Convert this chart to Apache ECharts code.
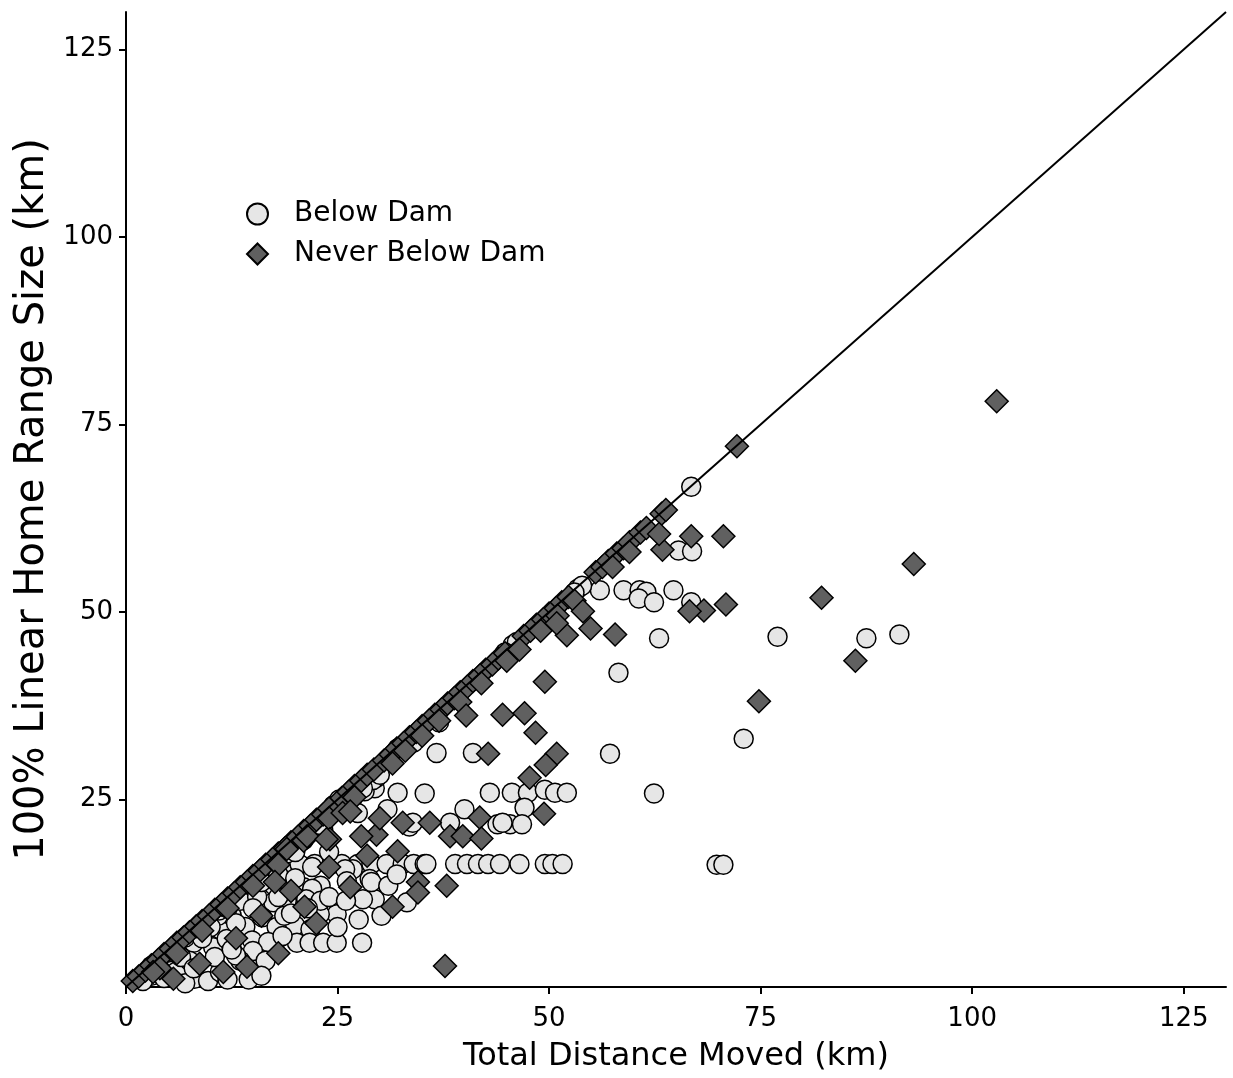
<!DOCTYPE html>
<html><head><meta charset="utf-8">
<script src="https://cdn.jsdelivr.net/npm/echarts@6/dist/echarts.min.js"></script>
<style>html,body{margin:0;padding:0;background:#fff}#c{width:1233px;height:1078px}</style>
</head><body><div id="c"></div>
<script>
const xTicks = [0, 25, 50, 75, 100, 125];
const yTicks = [25, 50, 75, 100, 125];
const seriesNames = ['Below Dam', 'Never Below Dam'];
const refLine = [[0, 0], [130, 130]];

const belowDam = [
  [91.4,47.0],[87.5,46.5],[77.0,46.7],[73.0,33.1],[62.4,25.8],[69.8,16.3],[70.6,16.3],[63.0,46.5],
  [58.2,41.9],[57.2,31.1],[66.8,66.7],[65.3,58.2],[66.9,58.1],[56.0,52.9],[58.8,52.9],[60.7,52.9],
  [61.5,52.7],[64.7,52.9],[60.6,51.8],[62.4,51.3],[66.8,51.3],[53.4,53.1],[53.9,53.5],[53.0,52.6],
  [45.6,25.9],[47.5,25.9],[49.5,26.3],[50.7,25.9],[52.1,25.9],[43.0,25.9],[35.3,25.8],[32.1,25.9],
  [29.4,26.5],[28.2,26.1],[26.7,25.0],[24.5,24.2],[47.1,23.9],[40.0,23.7],[30.9,23.7],[27.4,23.2],
  [43.9,21.7],[45.4,21.7],[46.8,21.7],[44.5,21.9],[38.3,21.9],[33.5,21.4],[33.9,21.9],
  [36.7,31.2],[41.0,31.2],[29.6,27.9],[32.1,31.8],[23.3,21.0],[25.2,25.0],[29.2,27.6],
  [45.7,45.6],[46.2,46.0],[44.8,44.6],
  [17,16.4],[19.1,16.4],[20.5,16.4],[22.3,16.4],
  [24.3,16.4],[25.5,16.4],[27.4,16.4],[29,16.4],[30.8,16.4],[32.7,16.4],[34,16.4],[35.3,16.4],
  [35.5,16.4],[38.9,16.4],[40.3,16.4],[41.6,16.4],[42.8,16.4],[44.2,16.4],[46.5,16.4],[49.5,16.4],
  [50.4,16.4],[51.6,16.4],
  [26.8,15.7],[25.9,15.7],[26.1,14.1],[28.8,14.4],
  [15,13.5],[17.5,13.5],[21,13.3],[23,13.5],[22,13.1],[19,12.7],
  [33.2,11.3],[29.4,11.7],[30.2,9.5],[24.9,9.7],[22.9,9.7],[17.4,11.3],[14.1,11.5],[16.1,9.3],
  [21.3,11.7],[23,11.5],[28,11.7],[19,11.5],
  [17.8,8.0],[20,8.2],[21.8,7.7],[11.1,7.7],[14.1,8],[8.4,7.7],[12.5,9.5],[10.9,9.5],
  [18.7,9.5],
  [17.6,5.9],[20.2,5.9],[21.7,5.9],[23.3,5.9],[24.9,5.9],[27.9,5.9],[10.3,5.3],[12.3,6.0],[14.9,6.2],
  [16.8,6.0],[6.4,5.5],[11.9,6.4],[8,5.9],
  [5,3.5],[4,2.4],[8.1,1.1],[9.7,0.8],[6,2.1],[11.1,2.0],[15,4.8],[3,1.5],[2,0.8],[12,1],[7,0.5],[13.5,3.5],
  [5,4.6],[7,6.6],[9,8.4],[11,10.2],[13,12.2],[15,14.2],[17,16.2],[19,17.8],[21,19.6],[23,21.6],
  [3,2.8],[26,25.5],[28,26.5],[30,28.3],[34,32.6],[37,35.3],
  [10,8],[12,10.5],[13.5,11.5],[15.5,12],[16,14],[18,15],[20,14.5],[22,16],[24,18],[20,18],
  [18,12],[15,10.5],[13,8.5],[9,6.5],[10.5,4],[7.5,3.5],[13,4.2],[16.5,3.5],[18.5,6.8],[14.5,1],
  [16,1.5],[12.5,5],[19.5,9.8],[21.5,10.5],[24,12],[26,11.5],[25,8],[27.5,9],[29,14],[31,13.5],
  [32,15],[6.5,4],[4.5,1.2],[8,2.5]
];

const neverBelowDam = [
  [0.8,0.8],[1.5,1.4],[2.3,2.2],[3,2.9],[3.8,3.6],[4.5,4.4],[5.3,5.1],[6,5.9],[6.8,6.6],[7.5,7.3],
  [8.3,8.1],[9,8.8],[9.8,9.5],[10.5,10.3],[11.3,11],[12,11.8],[12.8,12.5],[13.5,13.3],[14.3,14],
  [15,14.8],[15.8,15.5],[16.5,16.3],[17.3,17],[18,17.8],[18.8,18.5],[19.5,19.3],[20.3,20],[21,20.8],
  [21.8,21.5],[22.5,22.3],[23.3,23],[24,23.8],[25.5,25.2],[26.3,26],[27,26.8],[27.8,27.5],[28.5,28.3],
  [29.3,29],[30.5,30.2],[31.3,31],[32,31.8],[32.8,32.5],[33.5,33.3],[34.3,34],[35,34.8],[35.8,35.5],
  [36.5,36.3],[37.3,37],[38,37.8],[38.8,38.5],[39.5,39.3],[40.3,40],[41,40.8],[41.8,41.5],[42.5,42.3],
  [43.3,43],[44,43.8],[44.8,44.5],[47,46.8],[47.8,47.5],[48.5,48.3],[49.3,49],[50,49.8],[50.8,50.5],
  [51.5,51.3],[52.3,52],[55.5,55.3],[56.3,56],[57,56.8],[58,57.8],[58.8,58.5],[59.5,59.3],[60.8,60.6],
  [61.5,61.2],[63.3,63.1],[63.8,63.6],[72.2,72.1],
  [4,2.5],[6,4.5],[9,7.5],[12,10.5],[15,13.5],[18,16.3],[21,19.5],[24,22.5],[27,25.3],[31.5,29.8],
  [33,31.5],[35,33.5],[37,35.5],[39.5,38],[42,40.5],[45,43.5],[46.5,45],[49,47.5],[51,49.5],[53,51.5],
  [57.5,56],[59.5,58],
  [102.9,78.1],[93.1,56.4],[82.2,51.9],[86.2,43.5],[74.8,38.1],[70.9,51.0],[70.6,60.1],[66.8,60.1],
  [63.4,58.3],[63.0,60.4],[68.3,50.2],[66.6,50.1],[57.8,47.0],[54.9,47.8],[54.0,50.1],[52.1,46.9],
  [50.9,48.5],[49.5,40.7],[47.1,36.5],[48.4,33.9],[50.9,31.1],[49.6,29.6],[47.7,27.9],[49.4,23.1],
  [44.5,36.3],[40.2,36.2],[42.8,31.1],[37.7,2.8],[35.9,21.9],[32.7,21.9],[41.8,22.6],[38.3,20.1],
  [29.6,20.3],[39.8,20.1],[42.0,19.8],[25.6,23.2],[27.8,20.1],[24.1,19.7],[21.4,20.1],[32.1,18.1],
  [37.9,13.5],[34.5,14.0],[26.5,13.3],[21.1,10.7],[31.5,10.7],[34.5,12.6],[17.6,14],[19,18.4],
  [14.3,2.7],[11.5,2.0],[8.7,3.1],[3.2,2.0],[5.6,1.1],[26.5,23.4],[23.7,19.7],[30,22.5],[28.5,17.5],
  [24,16],[19.5,12.8],[16,9.5],[13,6.5],[22.5,8.5],[18,4.5]
];

const FONT = 'DejaVu Sans';
const chart = echarts.init(document.getElementById('c'), null, {renderer: 'canvas'});
const axisCommon = {
  type: 'value', min: 0, max: 130, interval: 25,
  axisLine: {show: true, onZero: false, lineStyle: {color: '#000', width: 2}},
  axisTick: {show: true, length: 7, lineStyle: {color: '#000', width: 2}},
  splitLine: {show: false},
  nameLocation: 'middle'
};
chart.setOption({
  animation: false,
  backgroundColor: '#fff',
  grid: {left: 126, right: 7, top: 12, bottom: 90.5, containLabel: false},
  legend: {
    orient: 'vertical', left: 241, top: 195, itemGap: 12, itemWidth: 21, itemHeight: 21,
    textStyle: {fontFamily: FONT, fontSize: 28, color: '#000', padding: [0, 0, 0, 21]},
    data: [{name: seriesNames[0], icon: 'circle'}, {name: seriesNames[1], icon: 'diamond'}]
  },
  xAxis: Object.assign({}, axisCommon, {
    name: 'Total Distance Moved (km)', nameGap: 54,
    nameTextStyle: {fontFamily: FONT, fontSize: 32, color: '#000'},
    axisTick: Object.assign({}, axisCommon.axisTick, {customValues: xTicks}),
    axisLabel: {customValues: xTicks, fontFamily: FONT, fontSize: 26, color: '#000', margin: 19}
  }),
  yAxis: Object.assign({}, axisCommon, {
    name: '100% Linear Home Range Size (km)', nameGap: 73,
    nameTextStyle: {fontFamily: FONT, fontSize: 40, color: '#000'},
    axisTick: Object.assign({}, axisCommon.axisTick, {customValues: yTicks}),
    axisLabel: {customValues: yTicks, fontFamily: FONT, fontSize: 26, color: '#000', margin: 13}
  }),
  series: [
    {
      name: seriesNames[0], type: 'scatter', data: belowDam, symbol: 'circle', symbolSize: 19, z: 2,
      itemStyle: {color: '#e6e6e6', borderColor: '#000', borderWidth: 1.5, opacity: 1},
      emphasis: {disabled: true}
    },
    {
      name: seriesNames[1], type: 'scatter', data: neverBelowDam, symbol: 'diamond', symbolSize: 23, z: 3,
      itemStyle: {color: '#606060', borderColor: '#000', borderWidth: 1.5, opacity: 1},
      emphasis: {disabled: true}
    },
    {
      name: 'ref', type: 'line', data: refLine, showSymbol: false, symbol: 'none', z: 5,
      lineStyle: {color: '#000', width: 2}, emphasis: {disabled: true}, silent: true
    }
  ]
});
</script>
</body></html>
